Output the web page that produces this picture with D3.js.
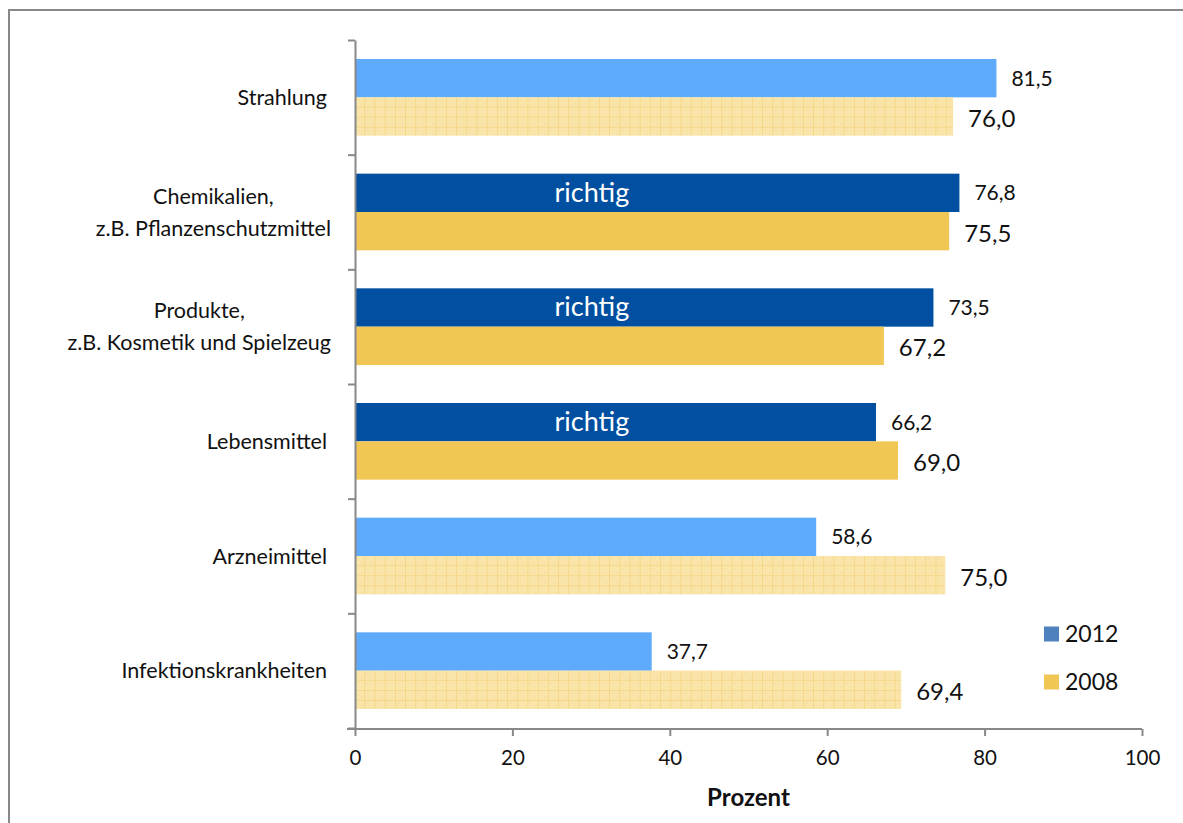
<!DOCTYPE html>
<html><head><meta charset="utf-8">
<script src="https://cdn.jsdelivr.net/npm/d3@7"></script>
<style>body{margin:0;background:#fff;} svg{display:block;font-family:Lato,"Open Sans",sans-serif;}</style>
</head><body>
<svg id="chart" width="1183" height="823"></svg>
<script>
const categories = ["Strahlung", "Chemikalien,\nz.B. Pflanzenschutzmittel", "Produkte,\nz.B. Kosmetik und Spielzeug", "Lebensmittel", "Arzneimittel", "Infektionskrankheiten"];
const values2012 = [81.5, 76.8, 73.5, 66.2, 58.6, 37.7];
const values2008 = [76.0, 75.5, 67.2, 69.0, 75.0, 69.4];
const correct = [false, true, true, true, false, false];
const series = ["2012", "2008"];
const xTicks = [0, 20, 40, 60, 80, 100];
const xTitle = "Prozent";
const correctLabel = "richtig";

const svg = d3.select("#chart");
const W = 1183, H = 823;
svg.append("rect").attr("width", W).attr("height", H).attr("fill", "#fff");
svg.append("rect").attr("x", 9).attr("y", 10).attr("width", W + 20).attr("height", H + 20)
  .attr("fill", "none").attr("stroke", "#888").attr("stroke-width", 2);

const x = d3.scaleLinear().domain([0, 100]).range([355, 1142]);
const y = d3.scaleBand().domain(categories).range([40, 728]).padding(0);
const step = y.bandwidth();
const sub = d3.scaleBand().domain(series).range([step * 0.1657, step * 0.8343]);
const idx = d3.scaleLinear().domain([0, categories.length]).range([40, 728]);

const defs = svg.append("defs");
const colLight = "#5eaafb", colDark = "#004fa1", colGold = "#f0c654";

const data = categories.map((c, i) => ({c, i, v12: values2012[i], v08: values2008[i], ok: correct[i]}));

function hatch(id, bx, by) {
  const p = defs.append("pattern").attr("id", id).attr("patternUnits", "userSpaceOnUse")
    .attr("x", bx).attr("y", by).attr("width", 10.2).attr("height", 10.1);
  p.append("rect").attr("width", 10.2).attr("height", 10.1).attr("fill", "#f9e4a9");
  p.append("rect").attr("x", 2).attr("y", 2).attr("width", 1).attr("height", 1).attr("fill", "#f5d88a");
  p.append("rect").attr("x", 6).attr("y", 6).attr("width", 1).attr("height", 1).attr("fill", "#f5d88a");
  p.append("rect").attr("x", 9.7).attr("y", 0).attr("width", 1).attr("height", 10.1).attr("fill", "#f2cd68");
  p.append("rect").attr("x", 0).attr("y", 9.6).attr("width", 10.2).attr("height", 1).attr("fill", "#f2cd68");
}

const g = svg.append("g");
data.forEach(d => {
  const y12 = y(d.c) + sub("2012"), y08 = y(d.c) + sub("2008"), bh = sub.bandwidth();
  g.append("rect").attr("x", x(0)).attr("y", y12).attr("width", x(d.v12) - x(0)).attr("height", bh)
    .attr("fill", d.ok ? colDark : colLight);
  let fill08 = colGold;
  if (!d.ok) { const id = "hp" + d.i; hatch(id, x(0), y08); fill08 = `url(#${id})`; }
  g.append("rect").attr("x", x(0)).attr("y", y08).attr("width", x(d.v08) - x(0)).attr("height", bh)
    .attr("fill", fill08);
  const f = d3.format(".1f");
  g.append("text").attr("x", x(d.v12) + 15).attr("y", y12 + bh / 2).attr("dy", "0.35em")
    .attr("font-size", 21).attr("fill", "#111").text(f(d.v12).replace(".", ","));
  g.append("text").attr("x", x(d.v08) + 15).attr("y", y08 + bh / 2 + 2).attr("dy", "0.35em")
    .attr("font-size", 24).attr("fill", "#111").text(f(d.v08).replace(".", ","));
  if (d.ok) {
    g.append("text").attr("x", x(30.1)).attr("y", y12 + bh / 2).attr("dy", "0.33em")
      .attr("text-anchor", "middle").attr("font-size", 27).attr("fill", "#fff").text(correctLabel);
  }
  const lines = d.c.split("\n");
  const t = g.append("text").attr("text-anchor", "middle").attr("font-size", 21.5).attr("fill", "#111");
  const tsp = lines.map((ln, k) => t.append("tspan")
      .attr("y", y(d.c) + step / 2 + (k - (lines.length - 1) / 2) * 32).attr("dy", "0.35em").text(ln));
  const maxW = d3.max(tsp, s => s.node().getComputedTextLength());
  const right = lines.length > 1 ? 331 : 327;
  tsp.forEach(s => s.attr("x", right - maxW / 2));
});

// axes
const ya = svg.append("g").attr("transform", `translate(${x(0)},0)`)
  .call(d3.axisLeft(idx).tickValues(d3.range(categories.length + 1)).tickFormat("").tickSizeInner(7).tickSizeOuter(0));
const xa = svg.append("g").attr("transform", `translate(0,729)`)
  .call(d3.axisBottom(x).tickValues(xTicks).tickSizeInner(7).tickSizeOuter(0).tickPadding(14));
[ya, xa].forEach(a => {
  a.selectAll("path,line").attr("stroke", "#888").attr("stroke-width", 2);
});
xa.select(".domain").attr("d", `M${x(0) - 8},0H${x(100)}`);
xa.selectAll("text").attr("font-size", 20.5).attr("fill", "#111").attr("font-family", "Lato,sans-serif");

svg.append("text").attr("x", (x(0) + x(100)) / 2).attr("y", 798).attr("dy", "0.35em")
  .attr("text-anchor", "middle").attr("font-size", 24).attr("font-weight", "bold").attr("fill", "#111").text(xTitle);

// legend
const legColors = {"2012": "#4f81bd", "2008": colGold};
series.forEach((s, k) => {
  const ly = 634 + k * 48;
  svg.append("rect").attr("x", 1044).attr("y", ly - 7.5).attr("width", 15).attr("height", 15).attr("fill", legColors[s]);
  svg.append("text").attr("x", 1065).attr("y", ly).attr("dy", "0.35em").attr("font-size", 23).attr("fill", "#111").text(s);
});
</script>
</body></html>
